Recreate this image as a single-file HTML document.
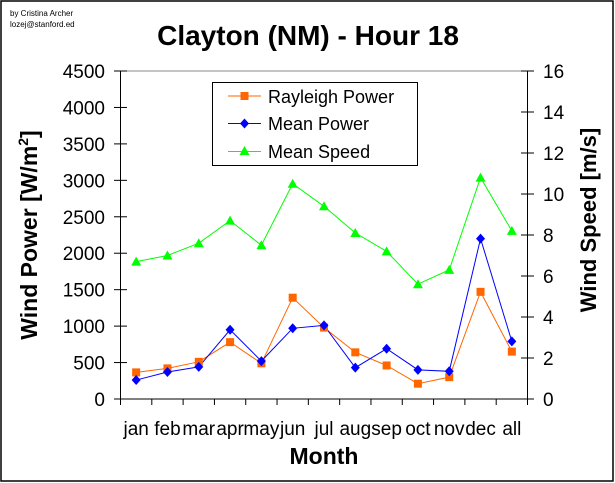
<!DOCTYPE html>
<html><head><meta charset="utf-8"><style>
html,body{margin:0;padding:0;background:#fff;}
svg{display:block;font-family:"Liberation Sans",Arial,sans-serif;}
</style></head><body>
<svg width="615" height="483" viewBox="0 0 615 483" xmlns="http://www.w3.org/2000/svg">
<rect x="0" y="0" width="615" height="483" fill="#fff"/>
<rect x="1" y="1" width="612" height="480" fill="none" stroke="#000" stroke-width="1.5"/>
<text x="10" y="16" font-size="8">by Cristina Archer</text>
<text x="10" y="27" font-size="8">lozej@stanford.ed</text>
<text x="308" y="45" font-size="28" font-weight="bold" text-anchor="middle">Clayton (NM) - Hour 18</text>
<line x1="120.5" y1="71" x2="527.5" y2="71" stroke="#888" stroke-width="1"/>
<line x1="120.5" y1="71" x2="120.5" y2="405" stroke="#000"/>
<line x1="527.5" y1="71" x2="527.5" y2="405" stroke="#000"/>
<line x1="120.5" y1="399" x2="527.5" y2="399" stroke="#000"/>
<g id="ticks" stroke="#000"></g>
<g font-size="19" text-anchor="end" id="yl"></g>
<g font-size="19" id="yr"></g>
<g font-size="19" text-anchor="middle" id="xl"></g>
<text transform="translate(37,235) rotate(-90)" font-size="23" font-weight="bold" text-anchor="middle">Wind Power [W/m<tspan dy="-9" font-size="14">2</tspan><tspan dy="9">]</tspan></text>
<text transform="translate(596,220) rotate(-90)" font-size="22" font-weight="bold" text-anchor="middle">Wind Speed [m/s]</text>
<text x="324" y="464" font-size="23" font-weight="bold" text-anchor="middle">Month</text>
<g id="series"></g>
<rect x="212.5" y="82.5" width="205" height="83" fill="#fff" stroke="#000"/>
<line x1="228" y1="96" x2="261" y2="96" stroke="#FF6600"/>
<rect x="240.5" y="92" width="8" height="8" fill="#FF6600"/>
<line x1="228" y1="123.5" x2="261" y2="123.5" stroke="#0000FF"/>
<polygon points="244.5,118.5 249,123.5 244.5,128.5 240,123.5" fill="#0000FF"/>
<line x1="228" y1="151.5" x2="261" y2="151.5" stroke="#00FF00"/>
<polygon points="244.5,146 249.5,155 239.5,155" fill="#00FF00"/>
<text x="268" y="103" font-size="18">Rayleigh Power</text>
<text x="268" y="130" font-size="18">Mean Power</text>
<text x="268" y="158" font-size="18">Mean Speed</text>
</svg>
<script>
var NS="http://www.w3.org/2000/svg";
function el(p,t,a,txt){var e=document.createElementNS(NS,t);for(var k in a)e.setAttribute(k,a[k]);if(txt!==undefined)e.textContent=txt;document.getElementById(p).appendChild(e);return e;}
var L=120.5,R=527.5,T=71,B=399,H=B-T,W=(R-L)/13;
for(var i=0;i<=9;i++){var y=B-i*H/9;el("ticks","line",{x1:114,y1:y,x2:127,y2:y});el("yl","text",{x:105,y:y+7},String(i*500));}
for(var i=0;i<=8;i++){var y=B-i*H/8;el("ticks","line",{x1:521,y1:y,x2:534,y2:y});el("yr","text",{x:543,y:y+7},String(i*2));}
for(var i=0;i<=13;i++){var x=L+i*W;el("ticks","line",{x1:x,y1:B,x2:x,y2:405});}
var m=["jan","feb","mar","apr","may","jun","jul","aug","sep","oct","nov","dec","all"];
for(var i=0;i<13;i++)el("xl","text",{x:L+(i+0.5)*W,y:435},m[i]);
var ray=[365,420,510,780,490,1390,980,640,460,210,300,1470,650];
var mp=[260,370,440,950,520,970,1010,430,690,400,380,2200,790];
var sp=[6.7,7.0,7.6,8.7,7.5,10.5,9.4,8.1,7.2,5.6,6.3,10.8,8.2];
function px(i){return L+(i+0.5)*W;}
function pw(v){return B-v/4500*H;}
function ps(v){return B-v/16*H;}
function line(d,f,c){var p=d.map(function(v,i){return px(i)+","+f(v);}).join(" ");el("series","polyline",{points:p,fill:"none",stroke:c,"stroke-width":1});}
line(sp,ps,"#00FF00");line(ray,pw,"#FF6600");line(mp,pw,"#0000FF");
sp.forEach(function(v,i){var x=px(i),y=ps(v);el("series","polygon",{points:(x)+","+(y-5)+" "+(x+5)+","+(y+4)+" "+(x-5)+","+(y+4),fill:"#00FF00"});});
ray.forEach(function(v,i){var x=px(i),y=pw(v);el("series","rect",{x:x-4,y:y-4,width:8,height:8,fill:"#FF6600"});});
mp.forEach(function(v,i){var x=px(i),y=pw(v);el("series","polygon",{points:x+","+(y-5)+" "+(x+4.5)+","+y+" "+x+","+(y+5)+" "+(x-4.5)+","+y,fill:"#0000FF"});});
</script>
</body></html>
